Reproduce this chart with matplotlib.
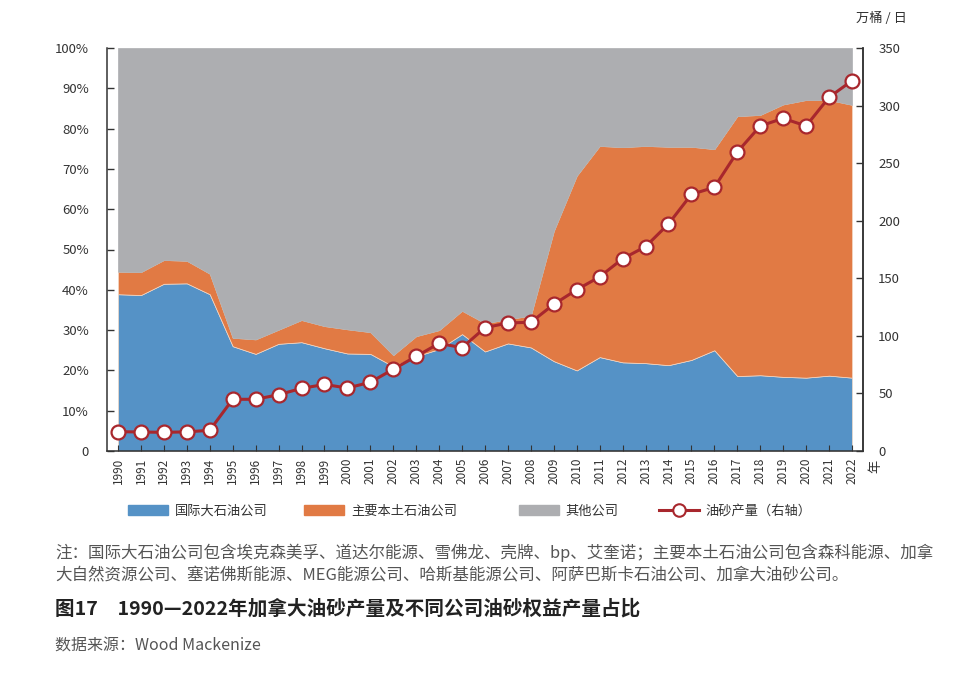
import numpy as np
import matplotlib
matplotlib.use("Agg")
import matplotlib.pyplot as plt
from matplotlib.patches import Patch
from matplotlib.lines import Line2D

plt.rcParams["font.family"] = ["Noto Sans CJK SC", "DejaVu Sans"]

BLUE, ORANGE, GREY, RED = "#5592c6", "#e17a44", "#adaeb1", "#a8272d"
INK = "#333333"

years = list(range(1990, 2023))
# share of oil-sands equity production (%)
intl_pct = [38.9, 38.7, 41.5, 41.6, 38.9, 26.0, 24.1, 26.6, 27.0, 25.5, 24.2,
            24.1, 21.0, 23.5, 25.3, 29.0, 24.7, 26.7, 25.7, 22.3, 20.0, 23.3,
            22.0, 21.8, 21.3, 22.6, 25.0, 18.6, 18.8, 18.4, 18.2, 18.7, 18.2]
domestic_pct = [5.6, 5.7, 5.9, 5.6, 5.1, 2.1, 3.6, 3.5, 5.5, 5.5, 6.0,
                5.4, 2.8, 5.0, 4.7, 5.8, 7.0, 6.0, 7.9, 32.3, 48.3, 52.4,
                53.4, 53.9, 54.2, 52.9, 49.9, 64.5, 64.6, 67.6, 68.9, 68.4, 67.7]
other_pct = [55.5, 55.6, 52.6, 52.8, 56.0, 71.9, 72.3, 69.9, 67.5, 69.0, 69.8,
             70.5, 76.2, 71.5, 70.0, 65.2, 68.3, 67.3, 66.4, 45.4, 31.7, 24.3,
             24.6, 24.3, 24.5, 24.5, 25.1, 16.9, 16.6, 14.0, 12.9, 12.9, 14.1]
# oil-sands production, 10k bbl/day (right axis)
production = [16.8, 16.5, 16.2, 16.6, 18.0, 44.9, 44.9, 48.9, 54.4, 57.8, 54.7,
              59.7, 71.0, 82.2, 93.5, 89.7, 107.1, 111.2, 111.8, 127.4, 140.1, 151.3,
              167.0, 177.5, 197.2, 222.9, 229.0, 259.7, 282.3, 288.9, 282.3, 307.2, 321.6]

labels = ["国际大石油公司", "主要本土石油公司", "其他公司", "油砂产量（右轴）"]

fig = plt.figure(figsize=(9.78, 6.75), dpi=100)
ax = fig.add_axes([107 / 978, 1 - 451 / 675, (863 - 107) / 978, (451 - 48) / 675])

polys = ax.stackplot(years, intl_pct, domestic_pct, other_pct,
                     colors=[BLUE, ORANGE, GREY], linewidth=0.5)
for p, ec in zip(polys, ["#f3d9c6", "#f3d9c6", GREY]):
    p.set_edgecolor(ec)
ax.set_xlim(1989.52, 2022.48)
ax.set_ylim(0, 100)
ax.set_yticks(np.arange(0, 101, 10))
ax.set_yticklabels(["0"] + [f"{v}%" for v in range(10, 101, 10)])
ax.set_xticks(years)
ax.set_xticklabels([str(y) for y in years], rotation=90)
ax.tick_params(axis="y", direction="in", length=5, width=1, pad=13,
               labelsize=9.5, colors=INK)
ax.tick_params(axis="x", direction="in", length=4, width=0.8, pad=5,
               labelsize=8.5, colors=INK)
for s in ("left", "bottom", "right"):
    ax.spines[s].set_color(INK)
    ax.spines[s].set_linewidth(1.1)
ax.spines["top"].set_visible(False)

ax2 = ax.twinx()
ax2.plot(years, production, color=RED, lw=2.2, marker="o", ms=10,
         mfc="white", mec=RED, mew=1.6, zorder=5)
ax2.set_ylim(0, 350)
ax2.set_yticks(np.arange(0, 351, 50))
ax2.tick_params(axis="y", direction="in", length=5, width=1, pad=11,
                labelsize=9.5, colors=INK)
ax2.spines["top"].set_visible(False)
ax2.spines["right"].set_color(INK)
ax2.spines["right"].set_linewidth(1.1)
ax2.spines["left"].set_visible(False)
ax2.spines["bottom"].set_visible(False)

fig.text(881 / 978, 1 - 18 / 675, "万桶 / 日", ha="center", va="center",
         fontsize=9.5, color=INK)
fig.text(876 / 978, 1 - 466 / 675, "年", ha="center", va="center",
         fontsize=9.5, color=INK, rotation=90)

# legend, one entry per slot so spacing follows the original
handles = [Patch(color=BLUE), Patch(color=ORANGE), Patch(color=GREY),
           Line2D([], [], color=RED, lw=2.2, marker="o", ms=9, mfc="white", mec=RED, mew=1.5)]
xs = [128, 304, 519, 659]
for h, lab, x in zip(handles, labels, xs):
    fig.legend([h], [lab], loc="center left", bbox_to_anchor=(x / 978, 1 - 511 / 675),
               frameon=False, fontsize=9.5, handlelength=3.0, handleheight=0.75,
               handletextpad=0.55, borderpad=0, borderaxespad=0, labelcolor=INK)

note1 = ("注：国际大石油公司包含埃克森美孚、道达尔能源、雪佛龙、壳牌、bp、艾奎诺；"
         "主要本土石油公司包含森科能源、加拿")
note2 = "大自然资源公司、塞诺佛斯能源、MEG能源公司、哈斯基能源公司、阿萨巴斯卡石油公司、加拿大油砂公司。"
fig.text(55 / 978, 1 - 553 / 675, note1, ha="left", va="center", fontsize=11.9, color="#555555")
fig.text(55 / 978, 1 - 575 / 675, note2, ha="left", va="center", fontsize=11.9, color="#555555")
fig.text(55 / 978, 1 - 609 / 675, "图17　1990—2022年加拿大油砂产量及不同公司油砂权益产量占比",
         ha="left", va="center", fontsize=14.1, fontweight="bold", color="#222222")
fig.text(55 / 978, 1 - 646 / 675, "数据来源：Wood Mackenize", ha="left", va="center",
         fontsize=11.5, color="#555555")

fig.savefig("out.png", dpi=100)
